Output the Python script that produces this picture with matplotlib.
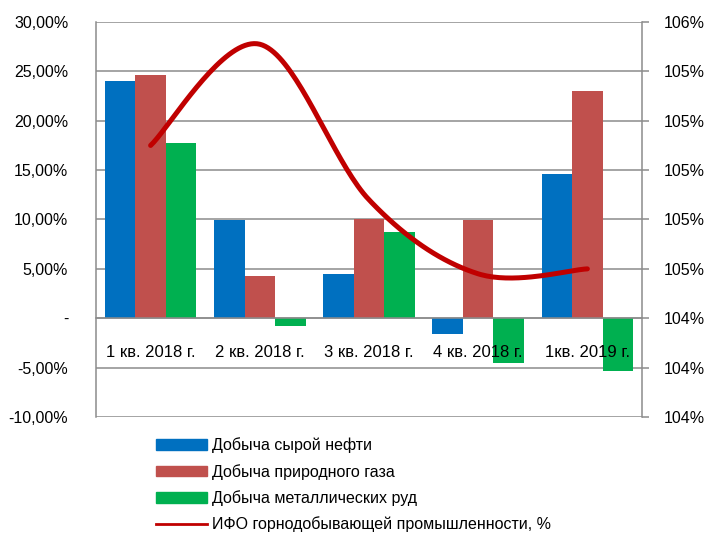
import numpy as np
import matplotlib.pyplot as plt
from matplotlib.lines import Line2D
from matplotlib.patches import Patch
from matplotlib.ticker import FuncFormatter, MultipleLocator

quarters = ["1 кв. 2018 г.", "2 кв. 2018 г.", "3 кв. 2018 г.", "4 кв. 2018 г.", "1кв. 2019 г."]
oil = [24.0, 9.9, 4.45, -1.6, 14.6]
gas = [24.6, 4.25, 10.0, 9.9, 23.0]
metal = [17.7, -0.8, 8.7, -4.55, -5.35]
ifo = [105.10, 105.51, 104.88, 104.58, 104.60]

names = ["Добыча сырой нефти", "Добыча природного газа",
         "Добыча металлических руд", "ИФО горнодобывающей промышленности, %"]
colors = ["#0070C0", "#C0504D", "#00B050"]
line_color = "#C00000"
grid_gray = "#8C8C8C"


def smooth(xs, ys, n=40):
    # Excel-like smoothing: Catmull-Rom through the points
    xs = np.asarray(xs, float)
    ys = np.asarray(ys, float)
    px = np.concatenate([[xs[0]], xs, [xs[-1]]])
    py = np.concatenate([[ys[0]], ys, [ys[-1]]])
    out_x, out_y = [], []
    t = np.linspace(0, 1, n)
    for i in range(1, len(px) - 2):
        b0x, b0y = px[i], py[i]
        b3x, b3y = px[i + 1], py[i + 1]
        b1x, b1y = px[i] + (px[i + 1] - px[i - 1]) / 6, py[i] + (py[i + 1] - py[i - 1]) / 6
        b2x, b2y = px[i + 1] - (px[i + 2] - px[i]) / 6, py[i + 1] - (py[i + 2] - py[i]) / 6
        bx = (1 - t) ** 3 * b0x + 3 * (1 - t) ** 2 * t * b1x + 3 * (1 - t) * t ** 2 * b2x + t ** 3 * b3x
        by = (1 - t) ** 3 * b0y + 3 * (1 - t) ** 2 * t * b1y + 3 * (1 - t) * t ** 2 * b2y + t ** 3 * b3y
        out_x.extend(bx)
        out_y.extend(by)
    return np.array(out_x), np.array(out_y)


plt.rcParams['font.family'] = ['Liberation Sans', 'DejaVu Sans']
plt.rcParams['font.size'] = 11.5

fig = plt.figure(figsize=(7.07, 5.37), dpi=100)
ax = fig.add_axes([0.1358, 0.2235, 0.7722, 0.7355])

x = np.arange(len(quarters))
w = 0.28
for k, vals in enumerate([oil, gas, metal]):
    ax.bar(x + (k - 1) * w, vals, width=w, color=colors[k], zorder=2)

ax.set_xlim(-0.5, len(quarters) - 0.5)
ax.set_ylim(-10, 30)
ax.yaxis.set_major_locator(MultipleLocator(5))
ax.yaxis.set_major_formatter(FuncFormatter(
    lambda v, p: "-" if abs(v) < 1e-9 else f"{v:.2f}%".replace(".", ",")))
ax.grid(axis='y', color=grid_gray, lw=1.1, zorder=0)
ax.set_axisbelow(True)

ax.set_xticks(x)
ax.spines['bottom'].set_position(('data', 0))
ax.spines['bottom'].set_color(grid_gray)
ax.spines['bottom'].set_linewidth(1.1)
ax.tick_params(axis='x', length=0, labelbottom=False)
ax.tick_params(axis='y', length=0, pad=20)
ax.spines['top'].set_visible(False)
ax.spines['left'].set_color(grid_gray)
ax.spines['left'].set_linewidth(1.1)
ax.spines['right'].set_visible(False)

ax2 = ax.twinx()
sx, sy = smooth(x, ifo)
ax2.plot(sx, sy, color=line_color, lw=3.6, solid_capstyle='round', zorder=3)
ax2.set_ylim(104.0, 105.6)
ax2.yaxis.set_major_locator(MultipleLocator(0.2))
ax2.yaxis.set_major_formatter(FuncFormatter(lambda v, p: f"{v:.0f}%"))
ax2.tick_params(axis='y', length=5, width=1.1, color=grid_gray, pad=11)
for s in ['top', 'left']:
    ax2.spines[s].set_visible(False)
ax2.spines['right'].set_color(grid_gray)
ax2.spines['right'].set_linewidth(1.1)

# category labels drawn on the top axes so they sit over the bars
ax2.xaxis.set_visible(True)
ax2.spines['bottom'].set_position(('axes', 0.25))
ax2.spines['bottom'].set_visible(False)
ax2.set_xticks(x)
ax2.set_xticklabels(quarters, fontsize=12)
ax2.tick_params(axis='x', length=0, pad=19, labelbottom=True)

handles = [Patch(color=c) for c in colors] + [Line2D([], [], color=line_color, lw=2)]
fig.legend(handles, names, loc='upper left', bbox_to_anchor=(0.2, 0.212),
           frameon=False, handlelength=3.2, handleheight=0.65, handletextpad=0.35,
           labelspacing=0.66, fontsize=11.5)

fig.savefig("out.png", dpi=100)
